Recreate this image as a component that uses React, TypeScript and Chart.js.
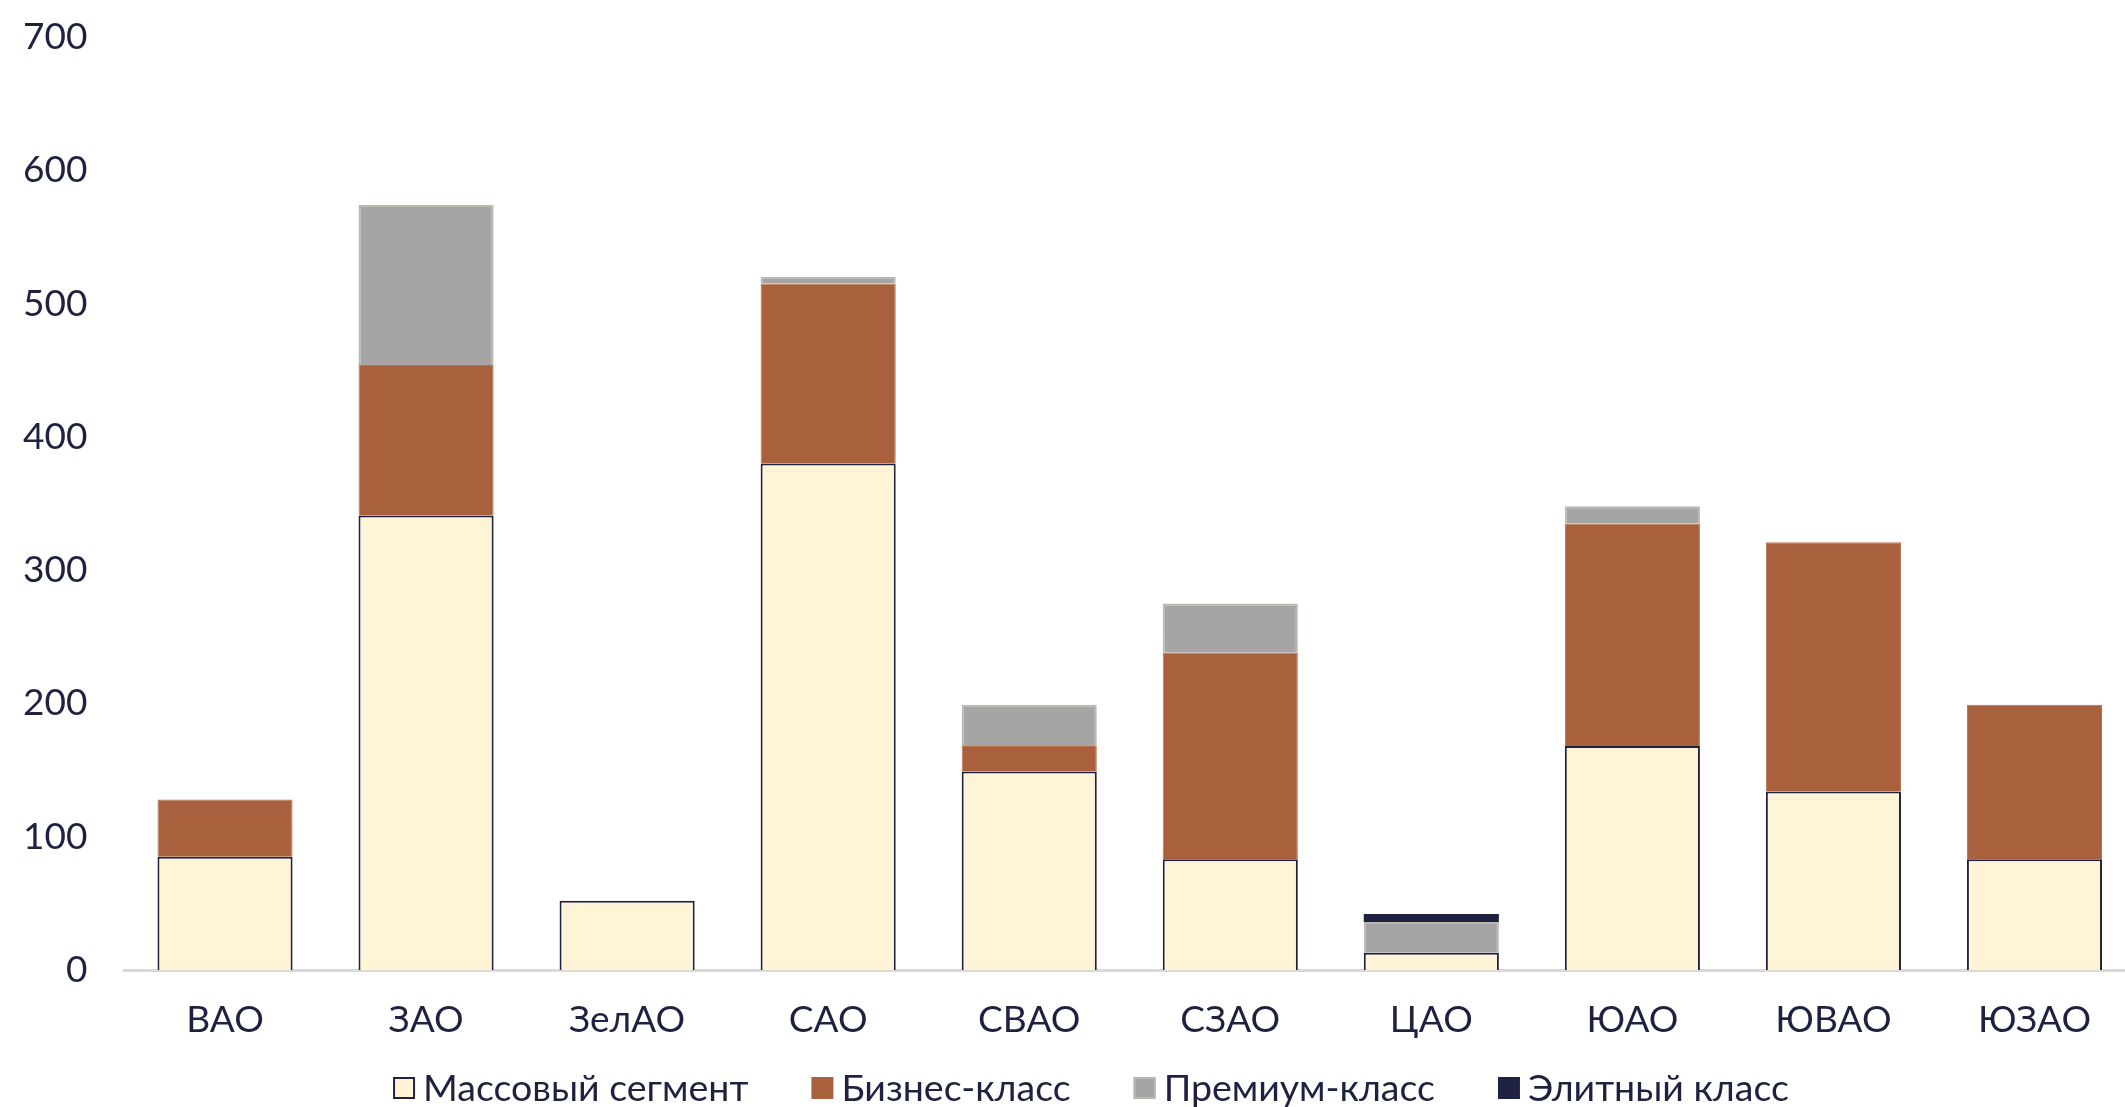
import { useEffect, useRef } from "react";
import { Chart, registerables } from "chart.js";

Chart.register(...registerables);

// Новостройки по округам Москвы, разбивка по классам жилья
const districts = ["ВАО", "ЗАО", "ЗелАО", "САО", "СВАО", "СЗАО", "ЦАО", "ЮАО", "ЮВАО", "ЮЗАО"];
const massSegment = [85, 341, 52, 380, 149, 83, 13, 168, 134, 83];
const businessClass = [43, 113, 0, 135, 19, 155, 0, 167, 187, 116];
const premiumClass = [0, 120, 0, 5, 31, 37, 23, 13, 0, 0];
const eliteClass = [0, 0, 0, 0, 0, 0, 6, 0, 0, 0];
const seriesNames = ["Массовый сегмент", "Бизнес-класс", "Премиум-класс", "Элитный класс"];
const yTickValues = [0, 100, 200, 300, 400, 500, 600, 700];

const NAVY = "#1F2140";
const CREAM = "#FFF5D6";
const BROWN = "#A9603C";
const GREY = "#A5A5A5";
const GREY_EDGE = "#BCB7AF";
const FONT = "Lato, 'Noto Sans', sans-serif";
const FONT_SIZE = 37;

const W = 2135;
const H = 1107;

// Legend drawn under the axis: small square, tight gap, then the series name
const bottomLegend = {
  id: "bottomLegend",
  afterDraw(chart: any) {
    const ctx = chart.ctx as CanvasRenderingContext2D;
    ctx.save();
    ctx.font = `37.5px ${FONT}`;
    const box = 22;
    const textGap = 8;
    const itemGap = 63;
    const items = chart.data.datasets.map((ds: any) => ({
      text: ds.label as string,
      fill: ds.legendFill as string,
      edge: ds.legendEdge as string | null,
      w: ctx.measureText(ds.label).width,
    }));
    const total =
      items.reduce((s: number, it: any) => s + box + textGap + it.w, 0) +
      itemGap * (items.length - 1);
    const centerX = W * 0.511;
    let x = centerX - total / 2;
    const cy = chart.chartArea.bottom + 118;
    ctx.textBaseline = "middle";
    ctx.textAlign = "left";
    for (const it of items) {
      ctx.fillStyle = it.fill;
      ctx.fillRect(x, cy - box / 2, box, box);
      if (it.edge) {
        ctx.strokeStyle = it.edge;
        ctx.lineWidth = 2;
        ctx.strokeRect(x + 1, cy - box / 2 + 1, box - 2, box - 2);
      }
      ctx.fillStyle = NAVY;
      ctx.fillText(it.text, x + box + textGap, cy + 1);
      x += box + textGap + it.w + itemGap;
    }
    ctx.restore();
  },
};

export default function App() {
  const canvasRef = useRef<HTMLCanvasElement | null>(null);

  useEffect(() => {
    document.body.style.margin = "0";
    document.body.style.overflow = "hidden";
    document.documentElement.style.overflow = "hidden";
    const canvas = canvasRef.current;
    if (!canvas) return;

    const edgeWidth = (w: number) => (c: any) => (c.raw ? w : 0);

    const chart = new Chart(canvas, {
      type: "bar",
      data: {
        labels: districts,
        datasets: [
          {
            label: seriesNames[0],
            data: massSegment,
            backgroundColor: CREAM,
            borderColor: NAVY,
            borderWidth: edgeWidth(2),
            legendFill: CREAM,
            legendEdge: NAVY,
          } as any,
          {
            label: seriesNames[1],
            data: businessClass,
            backgroundColor: BROWN,
            borderColor: "#B8714E",
            borderWidth: edgeWidth(1),
            legendFill: BROWN,
            legendEdge: null,
          },
          {
            label: seriesNames[2],
            data: premiumClass,
            backgroundColor: GREY,
            borderColor: GREY_EDGE,
            borderWidth: edgeWidth(2),
            legendFill: GREY,
            legendEdge: GREY_EDGE,
          },
          {
            label: seriesNames[3],
            data: eliteClass,
            backgroundColor: NAVY,
            borderColor: NAVY,
            borderWidth: 0,
            legendFill: NAVY,
            legendEdge: null,
          },
        ],
      },
      options: {
        responsive: false,
        animation: false,
        devicePixelRatio: 1,
        layout: { padding: { top: 37, right: 0, bottom: 67, left: 0 } },
        datasets: {
          bar: { categoryPercentage: 1, barPercentage: 0.672, borderSkipped: "start" },
        },
        plugins: {
          legend: { display: false },
          tooltip: { enabled: false },
        },
        scales: {
          x: {
            stacked: true,
            grid: { display: true, drawOnChartArea: false, drawTicks: false },
            border: { display: true, color: "#D9D9D9", width: 3 },
            ticks: {
              color: NAVY,
              font: { family: FONT, size: FONT_SIZE, lineHeight: 1.2 },
              padding: 28,
              maxRotation: 0,
              autoSkip: false,
            },
            afterFit: (s: any) => {
              s.height = 70;
              s.paddingLeft = 0;
              s.paddingRight = 0;
            },
          },
          y: {
            stacked: true,
            min: 0,
            max: 700,
            grid: { display: false, drawTicks: false },
            border: { display: false },
            afterBuildTicks: (s: any) => {
              s.ticks = yTickValues.map((v) => ({ value: v }));
            },
            ticks: {
              color: NAVY,
              font: { family: FONT, size: FONT_SIZE, lineHeight: 1.2 },
              padding: 37,
            },
            afterFit: (s: any) => {
              s.width = 124.5;
              s.paddingTop = 0;
              s.paddingBottom = 0;
            },
          },
        },
      },
      plugins: [bottomLegend],
    });

    return () => chart.destroy();
  }, []);

  return (
    <div style={{ width: W, height: H, overflow: "hidden" }}>
      <canvas ref={canvasRef} width={W} height={H} style={{ display: "block" }} />
    </div>
  );
}
